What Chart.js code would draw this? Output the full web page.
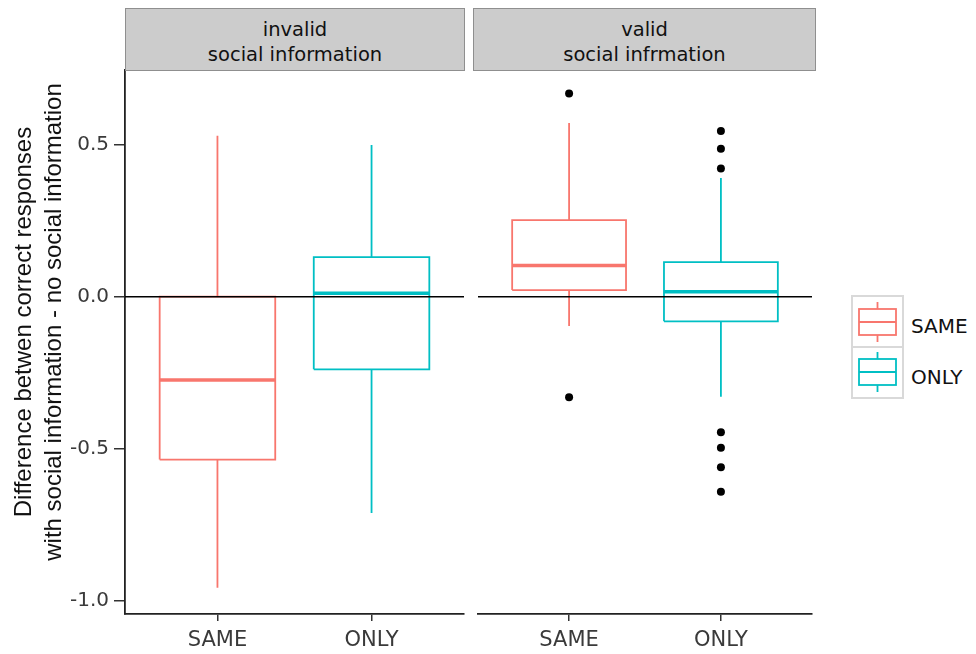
<!DOCTYPE html>
<html>
<head>
<meta charset="utf-8">
<script src="https://cdn.jsdelivr.net/npm/chart.js@4.4.1/dist/chart.umd.min.js"></script>
<style>
  body { margin: 0; background: #fff; font-family: "DejaVu Sans", sans-serif; }
  #page { position: relative; width: 976px; height: 654px; overflow: hidden; }
  .panel { position: absolute; top: 0; height: 654px; }
  .strip {
    position: absolute; top: 8px; height: 63px; box-sizing: border-box;
    background: #cccccc; border: 1.5px solid #8f8f8f;
    display: flex; flex-direction: column; justify-content: center; align-items: center;
    font-size: 19.5px; line-height: 25px; color: #111; padding-top: 4px;
  }
  #ytitle {
    position: absolute; left: 38px; top: 322px; width: 600px;
    transform: translate(-50%, -50%) rotate(-90deg);
    text-align: center; font-family: "Liberation Sans", Arial, sans-serif;
    font-size: 24px; line-height: 30px; color: #111; white-space: nowrap;
  }
  #legend { position: absolute; left: 851px; top: 296px; }
  .key { display: flex; align-items: center; height: 51px; }
  .key svg { display: block; }
  .key span { margin-left: 7px; margin-top: 8px; font-size: 20px; color: #111; }
</style>
</head>
<body>
<div id="page">
  <div class="panel" style="left:0; width:465px;"><canvas id="panelInvalid"></canvas></div>
  <div class="panel" style="left:474px; width:342px;"><canvas id="panelValid"></canvas></div>
  <div class="strip" id="strip0" style="left:125px; width:340px;"></div>
  <div class="strip" id="strip1" style="left:473px; width:343px;"></div>
  <div id="ytitle"></div>
  <div id="legend"></div>
</div>
<script>
// categories and facet titles
const categories = ['SAME', 'ONLY'];
const panelTitles = [['invalid', 'social information'], ['valid', 'social infrmation']];
const seriesColors = ['#F8766D', '#00BFC4'];
const yTicks = [-1.0, -0.5, 0.0, 0.5];
const yTitle = ['Difference betwen correct responses', 'with social information - no social information'];

// box stats (SAME, ONLY)
const invalidLow = [-0.958, -0.712];
const invalidQ1 = [-0.536, -0.239];
const invalidMedian = [-0.274, 0.011];
const invalidQ3 = [0.0, 0.130];
const invalidHigh = [0.530, 0.499];
const invalidOutliers = [[], []];

const validLow = [-0.096, -0.329];
const validQ1 = [0.022, -0.081];
const validMedian = [0.103, 0.016];
const validQ3 = [0.252, 0.114];
const validHigh = [0.572, 0.391];
const validOutliers = [[0.669, -0.331], [0.545, 0.487, 0.422, -0.446, -0.497, -0.561, -0.642]];

const yMin = -1.044, yMax = 0.746;
const halfBox = 0.375;

function boxDatasets(low, q1, med, q3, high, outliers) {
    const sets = [];
    // zero reference line goes on top
    sets.push({
        data: [{ x: 0.4, y: 0 }, { x: 2.6, y: 0 }],
        borderColor: '#000', borderWidth: 1.6
    });
    const pts = [];
    categories.forEach((c, i) => outliers[i].forEach(v => pts.push({ x: i + 1, y: v })));
    sets.push({
        data: pts, showLine: false, pointRadius: 4, pointBackgroundColor: '#000',
        pointBorderWidth: 0
    });
    categories.forEach((c, i) => {
        const x = i + 1, col = seriesColors[i];
        sets.push({
            data: [{ x: x - halfBox, y: med[i] }, { x: x + halfBox, y: med[i] }],
            borderColor: col, borderWidth: 3.5
        });
        sets.push({
            data: [
                { x: x - halfBox, y: q1[i] }, { x: x - halfBox, y: q3[i] },
                { x: x + halfBox, y: q3[i] }, { x: x + halfBox, y: q1[i] },
                { x: x - halfBox, y: q1[i] }
            ],
            borderColor: col, borderWidth: 1.8, borderJoinStyle: 'miter'
        });
        sets.push({
            data: [{ x: x, y: q3[i] }, { x: x, y: high[i] }, { x: x, y: null },
                   { x: x, y: q1[i] }, { x: x, y: low[i] }],
            borderColor: col, borderWidth: 1.8
        });
    });
    return sets.map(s => Object.assign({ showLine: true, pointRadius: 0, spanGaps: false, fill: false }, s));
}

function makeChart(id, datasets, showY) {
    return new Chart(document.getElementById(id), {
        type: 'scatter',
        data: { datasets: datasets },
        options: {
            responsive: true,
            maintainAspectRatio: false,
            animation: false,
            layout: { padding: { top: 70, right: 1, left: 0, bottom: 0 } },
            plugins: { legend: { display: false }, tooltip: { enabled: false } },
            scales: {
                x: {
                    type: 'linear', min: 0.4, max: 2.6,
                    afterBuildTicks: s => { s.ticks = categories.map((c, i) => ({ value: i + 1 })); },
                    afterFit: s => { s.height = 40; },
                    grid: { display: true, drawOnChartArea: false, drawTicks: true, tickLength: 7, color: '#333', lineWidth: 1.5 },
                    border: { display: true, color: '#222', width: 1.8 },
                    ticks: {
                        font: { family: 'DejaVu Sans', size: 21 }, color: '#3a3a3a', padding: 7, maxRotation: 0,
                        callback: (v, i) => categories[i]
                    }
                },
                y: {
                    display: showY,
                    min: yMin, max: yMax,
                    afterBuildTicks: s => { s.ticks = yTicks.map(v => ({ value: v })); },
                    afterFit: s => { if (showY) s.width = 125; },
                    grid: { display: true, drawOnChartArea: false, drawTicks: true, tickLength: 11, color: '#333', lineWidth: 1.5 },
                    border: { display: true, color: '#222', width: 1.8 },
                    ticks: { font: { family: 'DejaVu Sans', size: 20 }, color: '#3a3a3a', padding: 5, callback: v => v.toFixed(1) }
                }
            }
        }
    });
}

makeChart('panelInvalid', boxDatasets(invalidLow, invalidQ1, invalidMedian, invalidQ3, invalidHigh, invalidOutliers), true);
makeChart('panelValid', boxDatasets(validLow, validQ1, validMedian, validQ3, validHigh, validOutliers), false);

// facet strips and axis title
panelTitles.forEach((lines, i) => {
    document.getElementById('strip' + i).innerHTML = lines.map(l => '<div>' + l + '</div>').join('');
});
document.getElementById('ytitle').innerHTML = yTitle.map(l => '<div>' + l + '</div>').join('');

// legend with boxplot keys
const legend = document.getElementById('legend');
legend.innerHTML = categories.map((c, i) => {
    const col = seriesColors[i];
    return '<div class="key"><div style="width:49px;height:49px;border:2px solid #d9d9d9;' + (i ? 'border-top:none;height:50px;' : '') + '">' +
        '<svg width="49" height="49" viewBox="0 0 49 49">' +
        '<line x1="24.5" y1="5" x2="24.5" y2="12" stroke="' + col + '" stroke-width="1.8"/>' +
        '<line x1="24.5" y1="38" x2="24.5" y2="45" stroke="' + col + '" stroke-width="1.8"/>' +
        '<rect x="6" y="12" width="37" height="26" fill="none" stroke="' + col + '" stroke-width="1.8"/>' +
        '<line x1="6" y1="25" x2="43" y2="25" stroke="' + col + '" stroke-width="1.8"/>' +
        '</svg></div><span>' + c + '</span></div>';
}).join('');
</script>
</body>
</html>
